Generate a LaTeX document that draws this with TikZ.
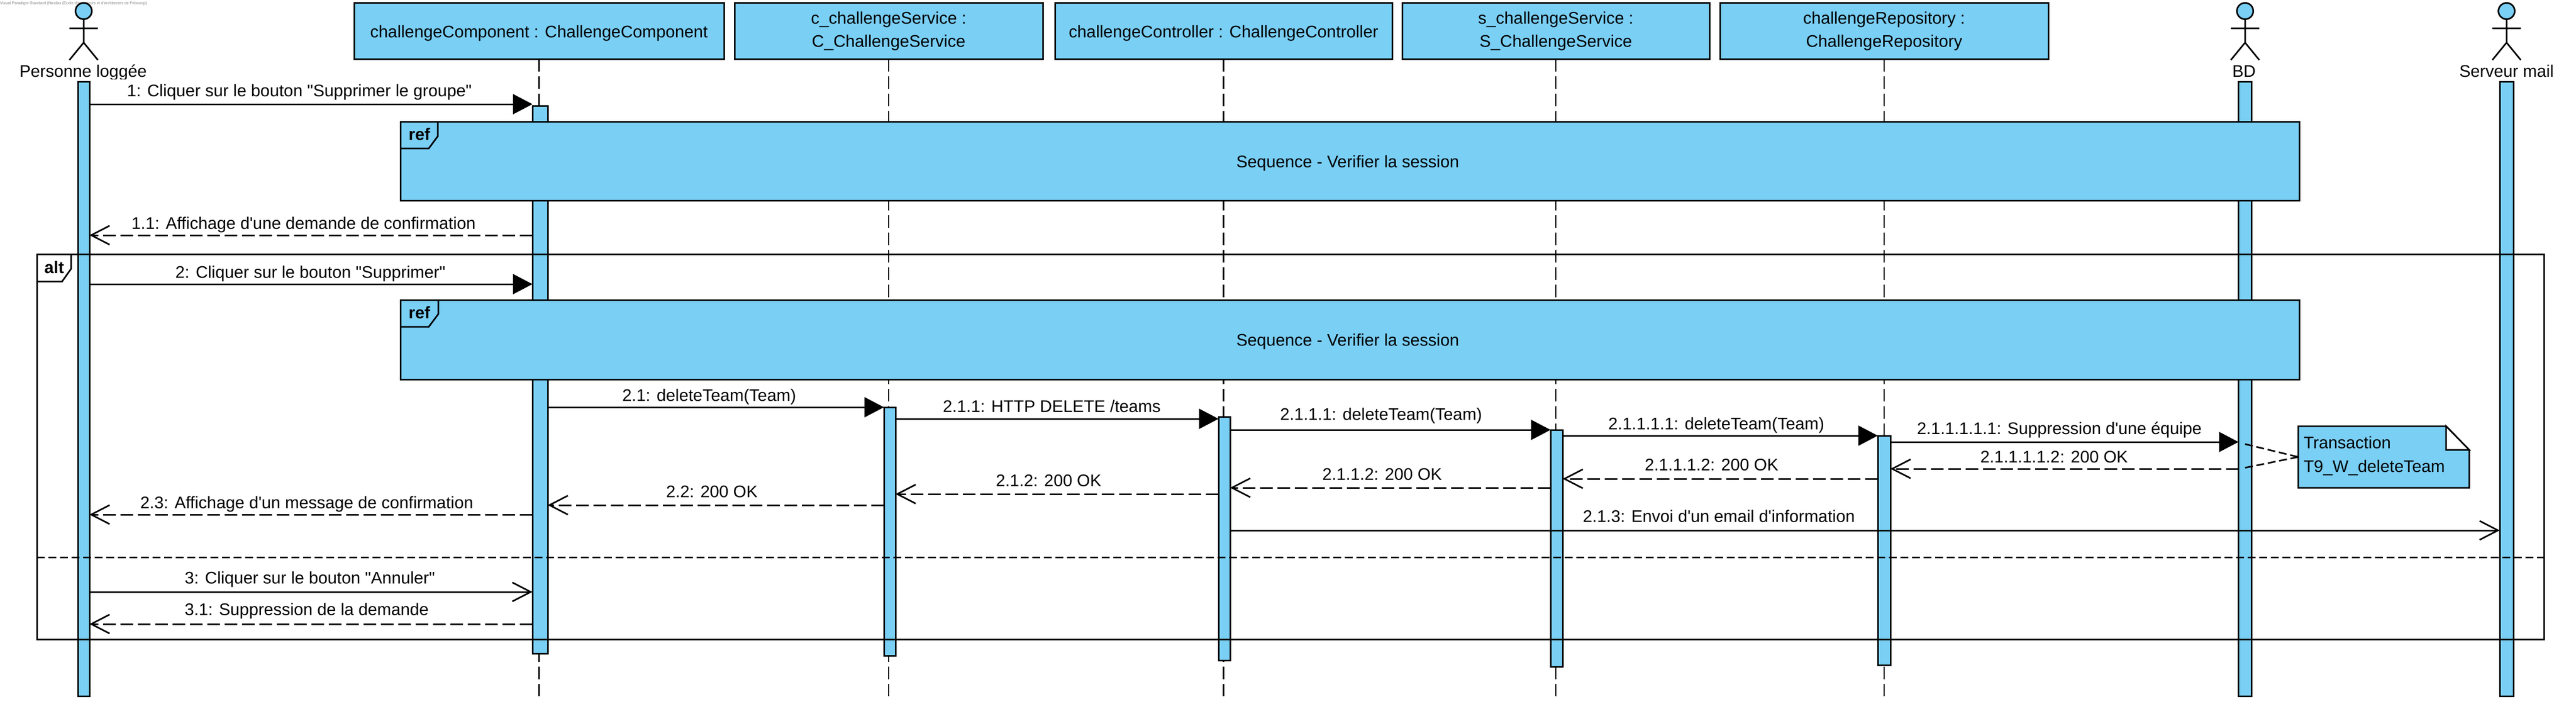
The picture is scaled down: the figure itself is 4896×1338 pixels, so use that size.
\documentclass[tikz,border=0pt]{standalone}
\usepackage{fontspec}
\usetikzlibrary{arrows.meta}
\newfontfamily\vpfont{Liberation Sans}
\definecolor{vpblue}{HTML}{7ACFF5}
\begin{document}
\begin{tikzpicture}[x=1pt,y=-1pt]
    \tikzstyle{box} = [rectangle, draw=black, fill=vpblue, line width=3pt, inner sep=0pt, outer sep=0pt, minimum height=106pt, align=center, font=\vpfont\fontsize{32}{44}\selectfont, execute at begin node={\rule{0pt}{31pt}}]
    \tikzstyle{bar} = [rectangle, draw=black, fill=vpblue, line width=3pt, inner sep=0pt, outer sep=0pt]
    \tikzstyle{head} = [circle, draw=black, fill=vpblue, line width=3pt, inner sep=0pt, outer sep=0pt, minimum size=31pt]
    \tikzstyle{figure} = [black, line width=3pt]
    \tikzstyle{lifeline} = [black, line width=2.5pt, dash pattern=on 24pt off 9pt]
    \tikzstyle{msg} = [anchor=base, inner sep=0pt, font=\vpfont\fontsize{32}{38}\selectfont]
    \tikzstyle{tag} = [anchor=base, inner sep=0pt, font=\vpfont\bfseries\fontsize{32}{38}\selectfont]
    \tikzstyle{frame} = [rectangle, draw=black, line width=3pt, inner sep=0pt, outer sep=0pt]
    \tikzstyle{reftab} = [draw=black, line width=3pt, line join=miter]
    \tikzstyle{sync} = [black, line width=3pt, -{Triangle[length=37pt,width=38pt]}]
    \tikzstyle{call} = [black, line width=3pt, -{Straight Barb[length=35pt,width=36pt,line width=3pt]}]
    \tikzstyle{reply} = [call, dash pattern=on 24pt off 9pt]
    \tikzstyle{fine} = [black, line width=3pt, dash pattern=on 15pt off 7pt]

    \useasboundingbox (0,0) rectangle (4896,1338);
    \node (stamp) [anchor=west, inner sep=0pt, text=gray, font=\vpfont\fontsize{7.5}{9}\selectfont] at (0,7) {Visual Paradigm Standard (Nicolas (Ecole d'ingénieurs et d'architectes de Fribourg))};

    % actors
    \foreach \who/\cx in {P/159, B/4267, M/4764} {
        \node (head\who) [head] at (\cx,21) {};
        \draw[figure] (head\who.south) -- (\cx,81) (\cx-27,114) -- (\cx,81) -- (\cx+27,114) (\cx-27,54) -- (\cx+27,54);
    }
    \begin{scope}
        \clip (0,120) rectangle (400,150);
        \node (nameP) [msg] at (158,146) {Personne loggée};
    \end{scope}
    \node (nameB) [msg] at (4265,146) {BD};
    \node (nameM) [msg] at (4764,146) {Serveur mail};

    \node (boxC) [box, minimum width=703pt] at (1024.5,59) {challengeComponent : ChallengeComponent};
    \node (boxS) [box, minimum width=586pt] at (1689,59) {c\_challengeService :\\C\_ChallengeService};
    \node (boxK) [box, minimum width=641pt] at (2325.5,59) {challengeController : ChallengeController};
    \node (boxT) [box, minimum width=584pt] at (2957,59) {s\_challengeService :\\S\_ChallengeService};
    \node (boxR) [box, minimum width=624pt] at (3581,59) {challengeRepository :\\ChallengeRepository};

    % lifelines
    \coordinate (lifeEnd) at (0,1323);
    \foreach \who in {C,S,K,T,R} {
        \draw[lifeline] (box\who.south) -- (box\who.south |- lifeEnd);
    }

    \node (barP) [bar, minimum width=22pt, minimum height=1168pt] at (159,739) {};
    \node (barB) [bar, minimum width=25pt, minimum height=1168pt] at (4267,739) {};
    \node (barM) [bar, minimum width=26pt, minimum height=1168pt] at (4764,739) {};
    \node (actC) [bar, minimum width=29pt, minimum height=1041pt] at (1026.5,721.5) {};
    \node (actS) [bar, minimum width=22pt, minimum height=472pt] at (1691,1010) {};
    \node (actK) [bar, minimum width=22pt, minimum height=463pt] at (2327,1023.5) {};
    \node (actT) [bar, minimum width=23pt, minimum height=450pt] at (2958.5,1042) {};
    \node (actR) [bar, minimum width=24pt, minimum height=436pt] at (3581,1046) {};

    % ref frames
    \node (refA) [frame, fill=vpblue, minimum width=3609pt, minimum height=150pt] at (2565.5,306) {};
    \draw[reftab] (832,231) -- (832,259) -- (815,282) -- (761,282);
    \node (tagA) [tag] at (797,266) {ref};
    \node (seqA) [msg] at (2561.5,318) {Sequence - Verifier la session};
    \node (refB) [frame, fill=vpblue, minimum width=3609pt, minimum height=151pt] at (2565.5,645.5) {};
    \draw[reftab] (833,570) -- (833,597) -- (815,621) -- (761,621);
    \node (tagB) [tag] at (797,605) {ref};
    \node (seqB) [msg] at (2561.5,657) {Sequence - Verifier la session};

    % alt frame
    \node (altFrame) [frame, minimum width=4765pt, minimum height=732pt] at (2452.5,849) {};
    \draw[reftab] (135,483) -- (135,511) -- (118,535) -- (70,535);
    \node (tagAlt) [tag] at (103,519) {alt};
    \draw[fine] (altFrame.west |- 0,1059) -- (altFrame.east |- 0,1059);

    % messages
    \draw[sync] (barP.east |- 0,198) -- (actC.west |- 0,198);
    \node (m1) [msg] at (569,183) {1: Cliquer sur le bouton "Supprimer le groupe"};
    \draw[reply] (actC.west |- 0,447) -- (barP.east |- 0,447);
    \node (m11) [msg] at (577,435) {1.1: Affichage d'une demande de confirmation};
    \draw[sync] (barP.east |- 0,540) -- (actC.west |- 0,540);
    \node (m2) [msg] at (590,528) {2: Cliquer sur le bouton "Supprimer"};
    \draw[sync] (actC.east |- 0,774) -- (actS.west |- 0,774);
    \node (m21) [msg] at (1348,762) {2.1: deleteTeam(Team)};
    \draw[sync] (actS.east |- 0,796) -- (actK.west |- 0,796);
    \node (m211) [msg] at (1999,783) {2.1.1: HTTP DELETE /teams};
    \draw[sync] (actK.east |- 0,817) -- (actT.west |- 0,817);
    \node (m2111) [msg] at (2625,798) {2.1.1.1: deleteTeam(Team)};
    \draw[sync] (actT.east |- 0,828) -- (actR.west |- 0,828);
    \node (m21111) [msg] at (3262,816) {2.1.1.1.1: deleteTeam(Team)};
    \draw[sync] (actR.east |- 0,840) -- (barB.west |- 0,840);
    \node (m211111) [msg] at (3914,825) {2.1.1.1.1.1: Suppression d'une équipe};
    \draw[reply] (barB.west |- 0,891) -- (actR.east |- 0,891);
    \node (m211112) [msg] at (3904,879) {2.1.1.1.1.2: 200 OK};
    \draw[reply] (actR.west |- 0,910) -- (actT.east |- 0,910);
    \node (m21112) [msg] at (3253,894) {2.1.1.1.2: 200 OK};
    \draw[reply] (actT.west |- 0,927) -- (actK.east |- 0,927);
    \node (m2112) [msg] at (2627,912) {2.1.1.2: 200 OK};
    \draw[reply] (actK.west |- 0,939) -- (actS.east |- 0,939);
    \node (m212) [msg] at (1993,924) {2.1.2: 200 OK};
    \draw[reply] (actS.west |- 0,960) -- (actC.east |- 0,960);
    \node (m22) [msg] at (1353,945) {2.2: 200 OK};
    \draw[reply] (actC.west |- 0,978) -- (barP.east |- 0,978);
    \node (m23) [msg] at (583,966) {2.3: Affichage d'un message de confirmation};
    \draw[call] (actK.east |- 0,1008) -- (barM.west |- 0,1008);
    \node (m213) [msg] at (3267,992) {2.1.3: Envoi d'un email d'information};
    \draw[call] (barP.east |- 0,1125) -- (actC.west |- 0,1125);
    \node (m3) [msg] at (589,1109) {3: Cliquer sur le bouton "Annuler"};
    \draw[reply] (actC.west |- 0,1186) -- (barP.east |- 0,1186);
    \node (m31) [msg] at (583,1169) {3.1: Suppression de la demande};

    % note
    \filldraw[draw=black, fill=vpblue, line width=3pt] (4368,810) -- (4649,810) -- (4693,855) -- (4693,927) -- (4368,927) -- cycle;
    \filldraw[draw=black, fill=white, line width=3pt] (4649,810) -- (4693,855) -- (4649,855) -- cycle;
    \node (note) [rectangle, inner sep=0pt, outer sep=0pt, minimum width=325pt, minimum height=117pt] at (4530.5,868.5) {};
    \node (noteA) [msg, anchor=base west] at (4378,852) {Transaction};
    \node (noteB) [msg, anchor=base west] at (4378,897) {T9\_W\_deleteTeam};
    \draw[fine] (barB.center |- 0,844) -- (note.west);
    \draw[fine] (barB.center |- 0,889) -- (note.west);
\end{tikzpicture}
\end{document}
